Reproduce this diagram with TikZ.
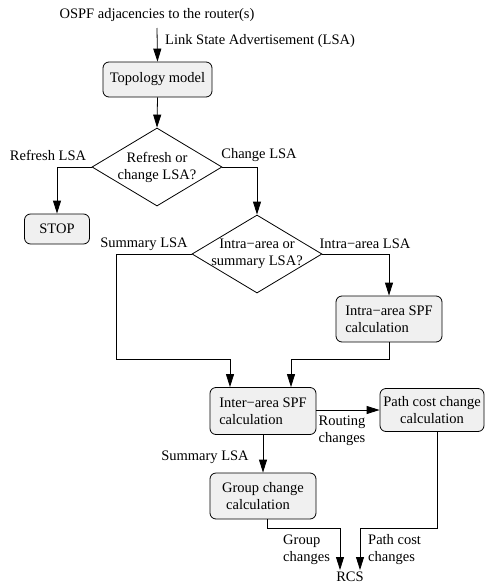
\documentclass[tikz,border=0pt]{standalone}
\usepackage{fontspec}
\setmainfont{Liberation Serif}
\usetikzlibrary{shapes.geometric,arrows.meta}
\begin{document}
\begin{tikzpicture}[x=1pt,y=-1pt,
  font=\fontsize{14.5}{17}\selectfont,
  box/.style={draw,line width=0.8pt,rounded corners=6pt,fill=black!6,inner sep=0pt,align=left},
  dec/.style={draw,line width=0.8pt,diamond,inner sep=0pt,minimum width=130pt,minimum height=78pt},
  conn/.style={line width=0.8pt,-{Triangle[length=13pt,width=8pt]}},
  line/.style={line width=0.8pt},
  lbl/.style={inner sep=0pt,align=center}]
\useasboundingbox (0,0) rectangle (485,584);
% nodes
\node[lbl] (src) at (157,15) {OSPF adjacencies to the router(s)};
\coordinate (srcend) at (157,28);
\node[box,minimum width=109pt,minimum height=35pt] (topo) at (157.5,79.5) {Topology model};
\node[dec] (d1) at (157,167) {};
\node[lbl] (d1t) at (d1) {Refresh or\\change LSA?};
\node[box,minimum width=65pt,minimum height=30pt] (stop) at (57,229) {STOP};
\node[dec] (d2) at (257,254) {};
\node[lbl] (d2t) at (d2) {Intra−area or\\summary LSA?};
\node[box,minimum width=106pt,minimum height=46pt] (intra) at (389,319) {Intra−area SPF\\calculation};
\node[box,minimum width=106pt,minimum height=47pt] (inter) at (263,411) {Inter−area SPF\\calculation};
\node[box,minimum width=104pt,minimum height=43pt,align=center] (path) at (432,410) {Path cost change\\calculation};
\node[box,minimum width=106pt,minimum height=46pt] (group) at (263,496) {Group change\\\hspace*{4pt}calculation};
\node[lbl] (rcs) at (350,577) {RCS};
% connectors
\draw[conn] (srcend) -- (topo.north);
\draw[conn] (topo.south) -- (d1.north);
\draw[conn] (d1.west) -| (stop.north);
\draw[conn] (d1.east) -| (d2.north);
\coordinate (sbend) at (116,359);
\coordinate (ibend) at (389,359);
\draw[conn] (d2.west) -| (sbend) -| ([xshift=-33pt]inter.north);
\draw[conn] (d2.east) -| (intra.north);
\draw[conn] (intra.south) -- (ibend) -| ([xshift=28pt]inter.north);
\draw[conn] (inter.east |- path.west) -- (path.west);
\draw[conn] (inter.south) -- (group.north);
\coordinate (gb) at (267,528);
\coordinate (pb) at (437,528);
\coordinate (ga) at (340,570);
\coordinate (pa) at (360,570);
\draw[conn] ([xshift=4pt]group.south) -- (gb) -| (ga);
\draw[conn] (path.south -| pb) -- (pb) -| (pa);
% labels
\node[lbl,anchor=west] at (165,41) {Link State Advertisement (LSA)};
\node[lbl] at (48,155) {Refresh LSA};
\node[lbl] at (259,155) {Change LSA};
\node[lbl] at (144,244) {Summary LSA};
\node[lbl] at (365,244) {Intra−area LSA};
\node[lbl] at (342,431) {Routing\\changes};
\node[lbl] at (205,457) {Summary LSA};
\node[lbl,anchor=west,align=left] at (283,550) {Group\\changes};
\node[lbl,anchor=west,align=left] at (368,550) {Path cost\\changes};
\end{tikzpicture}
\end{document}
